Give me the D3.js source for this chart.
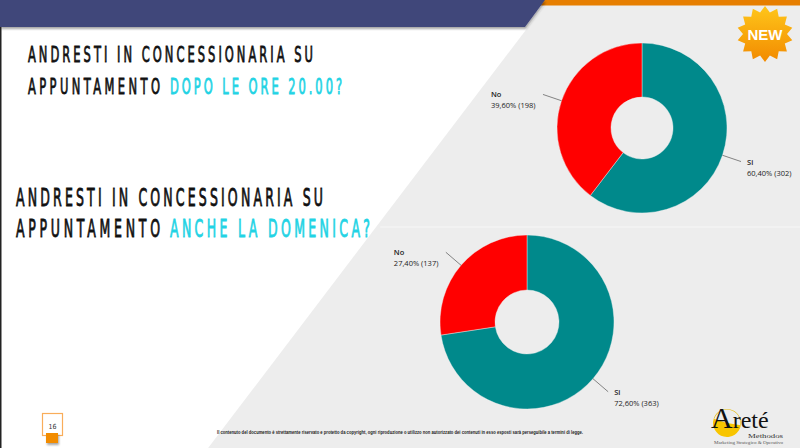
<!DOCTYPE html>
<html>
<head>
<meta charset="utf-8">
<script src="https://cdn.jsdelivr.net/npm/d3@7"></script>
<style>
  html, body { margin: 0; padding: 0; background: #fff; }
  svg { display: block; }
</style>
</head>
<body>
<script>
// answers and counts
const answers = ["Si", "No"];
const dopoCounts = [302, 198];
const domenicaCounts = [363, 137];
const sliceColors = ["#00898b", "#ff0000"];

const titleTop = ["ANDRESTI IN CONCESSIONARIA SU", "APPUNTAMENTO ", "DOPO LE ORE 20.00?"];
const titleBottom = ["ANDRESTI IN CONCESSIONARIA SU", "APPUNTAMENTO ", "ANCHE LA DOMENICA?"];

const footerText = "Il contenuto del documento è strettamente riservato e protetto da copyright, ogni riproduzione o utilizzo non autorizzato dei contenuti in esso esposti sarà perseguibile a termini di legge.";

const width = 800, height = 448;

const svg = d3.select('body')
    .append('svg')
    .attr('width', width)
    .attr('height', height);

const defs = svg.append('defs');

defs.append('filter')
    .attr('id', 'shadow')
    .attr('x', '-10%').attr('y', '-10%').attr('width', '130%').attr('height', '160%')
    .append('feDropShadow')
    .attr('dx', 1).attr('dy', 2).attr('stdDeviation', 1.2)
    .attr('flood-color', '#000').attr('flood-opacity', 0.35);

const badgeGrad = defs.append('linearGradient')
    .attr('id', 'badgeGrad')
    .attr('x1', 0).attr('y1', 0).attr('x2', 0).attr('y2', 1);
badgeGrad.append('stop').attr('offset', '0%').attr('stop-color', '#ffc61a');
badgeGrad.append('stop').attr('offset', '100%').attr('stop-color', '#f28a00');

// background: grey panel on the right, divided by a diagonal
const diagX = y => 503 - 0.76 * (y - 60);
svg.append('polygon')
    .attr('points', [[diagX(5), 5], [width, 5], [width, height], [diagX(height), height]].join(' '))
    .attr('fill', '#ededed');

// faint frame line of the lower chart image
svg.append('line')
    .attr('x1', diagX(227) + 4).attr('x2', width)
    .attr('y1', 227).attr('y2', 227)
    .attr('stroke', '#f7f7f7').attr('stroke-width', 1);

// header bands
svg.append('polygon')
    .attr('points', '543,0 800,0 800,5.5 539,5.5')
    .attr('fill', '#e67e00');
svg.append('polygon')
    .attr('points', '0,0 545,0 525,27 0,27')
    .attr('fill', '#41467a')
    .attr('filter', 'url(#shadow)');

svg.append('rect')
    .attr('x', 0).attr('y', 27).attr('width', 1.5).attr('height', height - 27)
    .attr('fill', '#222');

// titles: condensed look with wide tracking
function titleText(str, x, y, w, size, color) {
    const sx = 0.58;
    svg.append('text')
        .attr('transform', `translate(${x},${y}) scale(${sx},1)`)
        .attr('x', 0).attr('y', 0)
        .attr('textLength', w / sx)
        .attr('lengthAdjust', 'spacing')
        .attr('font-family', '"DejaVu Sans Condensed", "DejaVu Sans", sans-serif')
        .attr('font-size', size)
        .attr('fill', color)
        .attr('stroke', color)
        .attr('stroke-width', 0.8)
        .text(str.trim());
}

titleText(titleTop[0], 28, 62, 285, 22, '#111');
titleText(titleTop[1], 28, 94, 132, 22, '#111');
titleText(titleTop[2], 170, 94, 172, 22, '#22d3e4');

titleText(titleBottom[0], 16, 206, 307, 24, '#111');
titleText(titleBottom[1], 16, 237, 144, 24, '#111');
titleText(titleBottom[2], 170, 237, 200, 24, '#22d3e4');

// donuts
const charts = [
    { counts: dopoCounts, cx: 642, cy: 128, r: 85, inner: 31 },
    { counts: domenicaCounts, cx: 527, cy: 322, r: 87, inner: 32 }
];

const pie = d3.pie().sort(null).value(d => d.value);
const fmt = d3.format('.2f');

charts.forEach(c => {
    const data = answers.map((a, i) => ({ answer: a, value: c.counts[i], color: sliceColors[i] }));
    const total = d3.sum(data, d => d.value);
    const arcs = pie(data);

    const arc = d3.arc().innerRadius(c.inner).outerRadius(c.r);
    const edgeArc = d3.arc().innerRadius(c.r).outerRadius(c.r);
    const outArc = d3.arc().innerRadius(c.r * 1.23).outerRadius(c.r * 1.23);

    const g = svg.append('g').attr('transform', `translate(${c.cx},${c.cy})`);

    g.selectAll('path.slice')
        .data(arcs)
        .enter()
        .append('path')
        .attr('class', 'slice')
        .attr('d', arc)
        .attr('fill', d => d.data.color)
        .attr('stroke', '#f2f2f2')
        .attr('stroke-width', 0.4);

    g.selectAll('line.leader')
        .data(arcs)
        .enter()
        .append('line')
        .attr('class', 'leader')
        .attr('x1', d => edgeArc.centroid(d)[0])
        .attr('y1', d => edgeArc.centroid(d)[1])
        .attr('x2', d => outArc.centroid(d)[0])
        .attr('y2', d => outArc.centroid(d)[1])
        .attr('stroke', '#555')
        .attr('stroke-width', 0.7);

    const labels = g.selectAll('text.lbl')
        .data(arcs)
        .enter()
        .append('text')
        .attr('class', 'lbl')
        .attr('font-family', '"Open Sans", Roboto, sans-serif')
        .attr('font-size', 7.5)
        .attr('fill', '#222')
        .attr('transform', d => {
            const p = outArc.centroid(d);
            const mid = (d.startAngle + d.endAngle) / 2;
            const x = mid > Math.PI ? p[0] - 52 : p[0] + 6;
            return `translate(${x},${p[1] + 3})`;
        });

    labels.append('tspan')
        .attr('x', 0).attr('dy', 0)
        .attr('font-weight', 600)
        .text(d => d.data.answer);
    labels.append('tspan')
        .attr('x', 0).attr('dy', 11)
        .text(d => `${fmt(d.value / total * 100).replace('.', ',')}% (${d.value})`);
});

// NEW badge
const spikes = 14, rOut = 28, rIn = 22;
const starPts = d3.range(spikes * 2).map(i => {
    const a = i * Math.PI / spikes - Math.PI / 2;
    const rr = i % 2 === 0 ? rOut : rIn;
    return [765 + rr * Math.cos(a), 34 + rr * Math.sin(a)];
});
svg.append('polygon')
    .attr('points', starPts.join(' '))
    .attr('fill', 'url(#badgeGrad)');
svg.append('text')
    .attr('x', 765).attr('y', 39.5)
    .attr('text-anchor', 'middle')
    .attr('font-family', '"Liberation Sans", Arial, sans-serif')
    .attr('font-weight', 'bold')
    .attr('font-size', 15)
    .attr('fill', '#fff')
    .text('NEW');

// page number
svg.append('rect')
    .attr('x', 42.5).attr('y', 413.5).attr('width', 20).attr('height', 22)
    .attr('fill', '#fff').attr('stroke', '#f9ad5a').attr('stroke-width', 1.2);
svg.append('text')
    .attr('x', 52.5).attr('y', 429)
    .attr('text-anchor', 'middle')
    .attr('font-family', '"DejaVu Sans Condensed", sans-serif')
    .attr('font-size', 7)
    .attr('fill', '#333')
    .text('16');
svg.append('rect')
    .attr('x', 46).attr('y', 433).attr('width', 12).attr('height', 10)
    .attr('fill', '#f28c00')
    .attr('filter', 'url(#shadow)');

// footer note
svg.append('text')
    .attr('x', 217).attr('y', 434)
    .attr('textLength', 366)
    .attr('lengthAdjust', 'spacingAndGlyphs')
    .attr('font-family', '"Liberation Sans", Arial, sans-serif')
    .attr('font-weight', 'bold')
    .attr('font-size', 4.6)
    .attr('fill', '#222')
    .text(footerText);

// Areté logo
svg.append('path')
    .attr('d', d3.arc()({ innerRadius: 0, outerRadius: 14, startAngle: Math.PI * 0.55, endAngle: Math.PI * 1.6 }))
    .attr('transform', 'translate(727,423)')
    .attr('fill', '#f8c500');
svg.append('path')
    .attr('d', d3.arc()({ innerRadius: 13.4, outerRadius: 14, startAngle: -Math.PI * 0.4, endAngle: Math.PI * 0.55 }))
    .attr('transform', 'translate(727,423)')
    .attr('fill', '#e6b800');
const logo = svg.append('text')
    .attr('x', 711).attr('y', 428)
    .attr('font-family', '"Liberation Serif", "DejaVu Serif", serif')
    .attr('fill', '#111');
logo.append('tspan').attr('font-size', 30).text('A');
logo.append('tspan').attr('font-size', 24).text('reté');
svg.append('text')
    .attr('x', 748).attr('y', 438)
    .attr('textLength', 35)
    .attr('lengthAdjust', 'spacingAndGlyphs')
    .attr('font-family', '"Liberation Serif", serif')
    .attr('font-size', 6)
    .attr('fill', '#333')
    .text('Methodos');
svg.append('text')
    .attr('x', 714).attr('y', 443.5)
    .attr('textLength', 69)
    .attr('lengthAdjust', 'spacingAndGlyphs')
    .attr('font-family', '"Liberation Serif", serif')
    .attr('font-size', 4.6)
    .attr('fill', '#555')
    .text('Marketing Strategico & Operativo');
</script>
</body>
</html>
